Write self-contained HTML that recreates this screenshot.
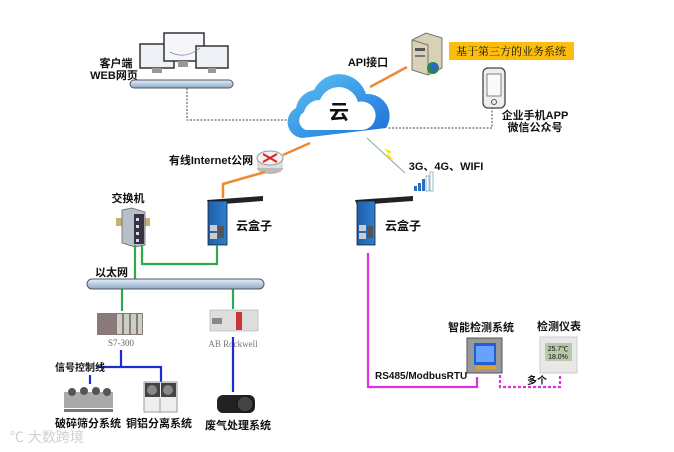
<!DOCTYPE html>
<html><head><meta charset="utf-8"><style>
html,body{margin:0;padding:0;background:#fff;}
svg{display:block;}
text{font-family:"Liberation Sans","Noto Sans CJK SC",sans-serif;font-weight:bold;fill:#111;}
</style></head><body>
<svg width="674" height="452" viewBox="0 0 674 452" xmlns="http://www.w3.org/2000/svg">
<defs>
<linearGradient id="pipe" x1="0" y1="0" x2="0" y2="1"><stop offset="0" stop-color="#e4eef8"/><stop offset="0.5" stop-color="#b9cde2"/><stop offset="1" stop-color="#8ea8c4"/></linearGradient>
<linearGradient id="cl" x1="0" y1="0" x2="1" y2="1"><stop offset="0" stop-color="#5fc4f5"/><stop offset="1" stop-color="#1a6fd8"/></linearGradient>
<linearGradient id="box" x1="0" y1="0" x2="1" y2="0"><stop offset="0" stop-color="#1f5fa8"/><stop offset="1" stop-color="#2d7fd0"/></linearGradient>
</defs>

<!-- monitors -->
<g stroke="#333" stroke-width="1.5">
<rect x="140" y="44" width="34" height="24" fill="#eef2f6"/>
<rect x="164" y="33" width="40" height="28" fill="#f4f6f9"/>
<rect x="196" y="46" width="32" height="22" fill="#eef2f6"/>
</g>
<rect x="152" y="68" width="10" height="5" fill="#999"/><rect x="178" y="61" width="10" height="6" fill="#999"/><rect x="208" y="68" width="8" height="5" fill="#999"/>
<path d="M170 52 q15 8 30 -4" stroke="#88a" fill="none" stroke-width="0.8"/>
<text x="116" y="67" font-size="11" text-anchor="middle">客户端</text>
<text x="114" y="79" font-size="11" text-anchor="middle">WEB网页</text>
<rect x="130" y="80" width="103" height="8" rx="4" fill="url(#pipe)" stroke="#556" stroke-width="1"/>

<!-- dotted lines -->
<path d="M187 88 V120 H290" stroke="#444" stroke-width="1" stroke-dasharray="2,1.5" fill="none"/>
<path d="M492 107 V128 H387" stroke="#444" stroke-width="1" stroke-dasharray="2,1.5" fill="none"/>

<!-- cloud -->
<g>
<path d="M302 138 a16 16 0 0 1 -6 -30 a22 22 0 0 1 18 -18 a28 28 0 0 1 52 4 a22 22 0 0 1 20 34 Z" fill="url(#cl)"/>
<path d="M306 130 a10 10 0 0 1 -2 -18 a16 16 0 0 1 16 -12 a20 20 0 0 1 38 2 a14 14 0 0 1 16 20 q-4 8 -14 8 Z" fill="#fff"/>
<text x="339" y="119" font-size="20" text-anchor="middle">云</text>
</g>

<!-- API -->
<text x="368" y="66" font-size="11" text-anchor="middle">API接口</text>
<line x1="370" y1="87" x2="407" y2="67" stroke="#f08a30" stroke-width="2.5"/>
<path d="M412 40 l14 -7 l16 5 v30 l-14 7 l-16 -5 Z" fill="#d9d0b8" stroke="#776" stroke-width="1"/>
<path d="M412 40 l16 5 v30" fill="none" stroke="#776" stroke-width="1"/>
<rect x="415" y="48" width="10" height="3" fill="#555"/><rect x="415" y="55" width="10" height="2" fill="#777"/>
<circle cx="433" cy="68" r="6" fill="#2a8a3a"/><circle cx="434" cy="67" r="4" fill="#2a68c8"/>
<rect x="449" y="42" width="125" height="18" fill="#fbbd0e"/>
<text x="511" y="55" font-size="11" font-weight="normal" text-anchor="middle" style="font-family:'Noto Serif CJK SC',serif;font-weight:normal">基于第三方的业务系统</text>

<!-- phone -->
<rect x="483" y="68" width="22" height="40" rx="5" fill="#eee" stroke="#444" stroke-width="1.3"/>
<rect x="487" y="74" width="14" height="22" fill="#fafafa" stroke="#666" stroke-width="0.8"/>
<circle cx="494" cy="102" r="2.5" fill="none" stroke="#555"/>
<text x="535" y="119" font-size="11" text-anchor="middle">企业手机APP</text>
<text x="535" y="131" font-size="11" text-anchor="middle">微信公众号</text>

<!-- router -->
<line x1="310" y1="143" x2="283" y2="155" stroke="#f08a30" stroke-width="2.5"/>
<ellipse cx="270" cy="168" rx="13" ry="6" fill="#bbb"/>
<rect x="257" y="158" width="26" height="10" fill="#ddd"/>
<ellipse cx="270" cy="158" rx="13" ry="7" fill="#f2f2f2" stroke="#999"/>
<path d="M263 154 l14 8 M277 154 l-14 8" stroke="#d22" stroke-width="2"/>
<text x="211" y="164" font-size="11" text-anchor="middle">有线Internet公网</text>
<path d="M265 172 L223 184 V198" stroke="#f08a30" stroke-width="2.5" fill="none"/>

<!-- wireless -->
<line x1="367" y1="138" x2="405" y2="173" stroke="#8a9" stroke-width="1"/>
<path d="M384 148 l8 4 l-5 2 l8 6 l-10 -4 l4 -2 Z" fill="#f4e000"/>
<text x="446" y="170" font-size="11" text-anchor="middle">3G、4G、WIFI</text>
<g fill="#2a6fc0"><rect x="414" y="186" width="3" height="5"/><rect x="418" y="183" width="3" height="8"/><rect x="422" y="179" width="3" height="12"/></g>
<g fill="none" stroke="#9bc"><rect x="426" y="176" width="3" height="15"/><rect x="430" y="172" width="3" height="19"/></g>

<!-- cloud boxes -->
<g>
<path d="M207 200 L263 196 L263 201 L209 205 Z" fill="#222"/>
<rect x="208" y="201" width="19" height="44" fill="url(#box)" stroke="#123" stroke-width="0.8"/>
<rect x="210" y="225" width="7" height="6" fill="#ccc"/><rect x="210" y="233" width="7" height="6" fill="#ccc"/><rect x="218" y="226" width="6" height="12" fill="#555"/>
<text x="236" y="230" font-size="12">云盒子</text>
</g>
<g>
<path d="M355 200 L413 196 L413 201 L357 205 Z" fill="#222"/>
<rect x="357" y="201" width="18" height="44" fill="url(#box)" stroke="#123" stroke-width="0.8"/>
<rect x="359" y="225" width="7" height="6" fill="#ccc"/><rect x="359" y="233" width="7" height="6" fill="#ccc"/><rect x="367" y="226" width="6" height="12" fill="#555"/>
<text x="385" y="230" font-size="12">云盒子</text>
</g>

<!-- switch -->
<text x="128" y="202" font-size="11" text-anchor="middle">交换机</text>
<rect x="116" y="218" width="6" height="8" fill="#c8b070"/><rect x="145" y="218" width="5" height="8" fill="#c8b070"/>
<path d="M122 210 l10 -2 l13 4 v33 l-10 2 l-13 -4 Z" fill="#b7bfc8" stroke="#666" stroke-width="0.8"/>
<rect x="134" y="214" width="10" height="30" fill="#334"/>
<g fill="#ddd"><rect x="136" y="218" width="3" height="3"/><rect x="136" y="225" width="3" height="3"/><rect x="136" y="232" width="3" height="3"/><rect x="136" y="239" width="3" height="3"/></g>

<!-- green lines -->
<g stroke="#2eaa4e" stroke-width="2.2" fill="none">
<path d="M142 245 V264 H217 V245"/>
<path d="M135 245 V280"/>
<path d="M122 289 V311"/>
<path d="M233 289 V309"/>
</g>
<text x="95" y="276" font-size="11">以太网</text>
<rect x="87" y="279" width="177" height="10" rx="5" fill="url(#pipe)" stroke="#556" stroke-width="1"/>

<!-- PLCs -->
<rect x="97" y="313" width="46" height="22" fill="#8a7a7a"/>
<g fill="#c8d0c8"><rect x="117" y="314" width="5" height="20"/><rect x="124" y="314" width="5" height="20"/><rect x="131" y="314" width="5" height="20"/><rect x="138" y="314" width="4" height="20"/></g>
<text x="121" y="346" font-size="9" font-weight="normal" text-anchor="middle" style="font-family:'Liberation Serif',serif;font-weight:normal;fill:#666">S7-300</text>
<rect x="210" y="310" width="48" height="21" fill="#ddd" stroke="#aaa" stroke-width="0.6"/>
<rect x="236" y="312" width="6" height="18" fill="#c33"/><rect x="212" y="318" width="10" height="6" fill="#888"/>
<text x="233" y="347" font-size="9" font-weight="normal" text-anchor="middle" style="font-family:'Liberation Serif',serif;font-weight:normal;fill:#777">AB Rockwell</text>

<!-- blue lines -->
<g stroke="#1a2fd0" stroke-width="2.2" fill="none">
<path d="M121 350 V367 M98 367 H161 V382"/>
<path d="M90 375 V384"/>
<path d="M233 337 V392"/>
</g>
<text x="55" y="371" font-size="10">信号控制线</text>

<!-- machines -->
<rect x="64" y="392" width="49" height="16" fill="#aaa"/>
<g fill="#555"><circle cx="72" cy="392" r="4"/><circle cx="84" cy="391" r="4"/><circle cx="96" cy="391" r="4"/><circle cx="107" cy="392" r="4"/></g>
<rect x="64" y="409" width="49" height="3" fill="#777"/>
<rect x="144" y="382" width="33" height="30" fill="#eee" stroke="#999"/>
<rect x="145" y="383" width="15" height="14" fill="#444"/><rect x="161" y="383" width="15" height="14" fill="#444"/>
<circle cx="152" cy="390" r="5" fill="#888"/><circle cx="168" cy="390" r="5" fill="#888"/>
<line x1="160" y1="398" x2="160" y2="412" stroke="#999"/>
<rect x="217" y="395" width="38" height="18" rx="6" fill="#222"/>
<circle cx="245" cy="404" r="8" fill="#444" stroke="#111"/>
<text x="88" y="427" font-size="11" text-anchor="middle">破碎筛分系统</text>
<text x="159" y="427" font-size="11" text-anchor="middle">铜铝分离系统</text>
<text x="238" y="429" font-size="11" text-anchor="middle">废气处理系统</text>

<!-- magenta -->
<path d="M368 253 V387 H477 V377" stroke="#e030e0" stroke-width="2.2" fill="none"/>
<path d="M500 375 V387 H560 V375" stroke="#e030e0" stroke-width="2.2" fill="none" stroke-dasharray="3,2"/>
<text x="375" y="379" font-size="10">RS485/ModbusRTU</text>
<text x="527" y="384" font-size="10">多个</text>

<!-- meter -->
<text x="481" y="331" font-size="11" text-anchor="middle">智能检测系统</text>
<rect x="467" y="338" width="35" height="35" fill="#999" stroke="#555"/>
<rect x="474" y="343" width="22" height="22" fill="#2060d0"/>
<rect x="476" y="346" width="18" height="16" fill="#6aa0ff"/>
<rect x="476" y="366" width="20" height="3" fill="#e0a030"/>
<text x="559" y="330" font-size="11" text-anchor="middle">检测仪表</text>
<rect x="540" y="337" width="37" height="36" fill="#e8e8e6" stroke="#ccc"/>
<rect x="545" y="343" width="27" height="18" fill="#b8c8a8"/>
<text x="558" y="351" font-size="7" font-weight="normal" text-anchor="middle" style="font-weight:normal">25.7℃</text>
<text x="558" y="359" font-size="7" font-weight="normal" text-anchor="middle" style="font-weight:normal">18.0%</text>

<!-- watermark -->
<text x="10" y="442" font-size="14" style="fill:#d0d0d0;font-weight:normal">℃ 大数跨境</text>
</svg>
</body></html>
